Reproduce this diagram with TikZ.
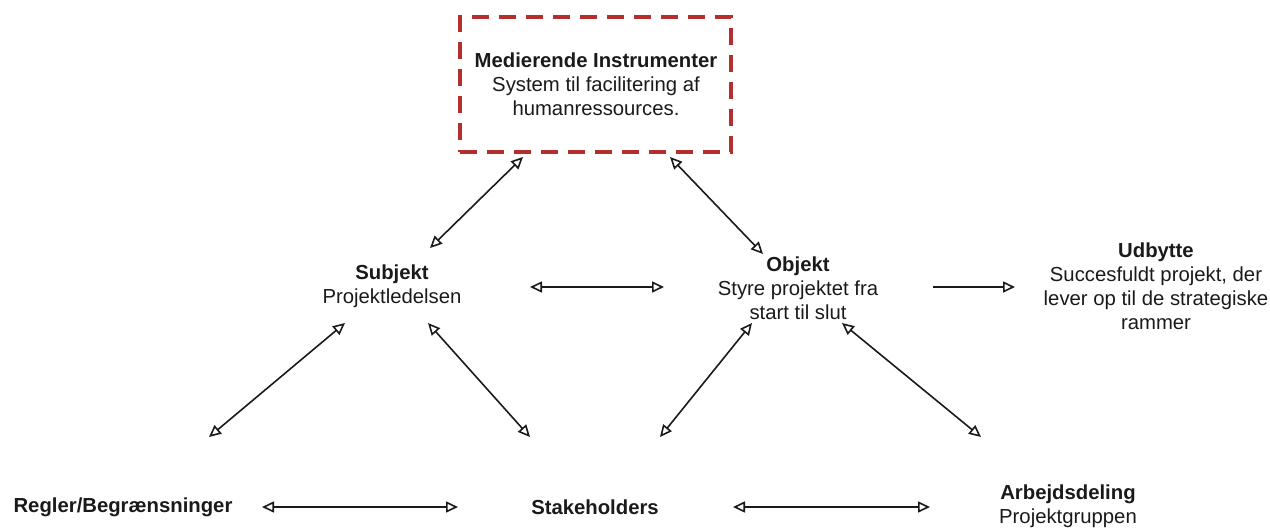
\documentclass[tikz,border=0pt]{standalone}
\usepackage{fontspec}
\setmainfont{Liberation Sans}
\usetikzlibrary{arrows.meta}
\definecolor{boxred}{RGB}{180,46,46}
\definecolor{ink}{RGB}{26,26,26}
\tikzset{
  lbl/.style={text=ink, align=center, inner sep=0pt, font=\fontsize{20.3}{24}\selectfont},
  tip/.style={Triangle[open,length=12pt,width=11pt]},
  both/.style={draw=ink, line width=1.6pt, {Triangle[open,length=12pt,width=11pt]}-{Triangle[open,length=12pt,width=11pt]}},
  tohead/.style={draw=ink, line width=1.6pt, -{Triangle[open,length=12pt,width=11pt]}},
  medbox/.style={draw=boxred, line width=3.2pt, dash pattern=on 17pt off 10pt,
    minimum width=271pt, minimum height=135pt, inner sep=0pt}
}
\begin{document}
\begin{tikzpicture}[x=1pt,y=-1pt]
\useasboundingbox (0,0) rectangle (1270,528);

% mediating instruments box
\node[medbox] (box) at (595.5,84.5) {};
\node[lbl] (boxtxt) at (596,84) {\textbf{Medierende Instrumenter}\\System til facilitering af\\humanressources.};

% nodes of the activity system
\node[lbl] (subj) at (392,286) {\textbf{Subjekt}\\Projektledelsen};
\node[lbl] (obj) at (798,288) {\textbf{Objekt}\\Styre projektet fra\\start til slut};
\node[lbl] (udb) at (1156,286) {\textbf{Udbytte}\\Succesfuldt projekt, der\\lever op til de strategiske\\rammer};
\node[lbl] (regl) at (123,507) {\textbf{Regler/Begrænsninger}};
\node[lbl] (stak) at (595,507) {\textbf{Stakeholders}};
\node[lbl] (arb) at (1068,506.5) {\textbf{Arbejdsdeling}\\Projektgruppen};

% connector end points
\coordinate (box-l) at (523,157);
\coordinate (box-r) at (670,157);
\coordinate (subj-t) at (430,248);
\coordinate (obj-t) at (763,254);
\coordinate (subj-r) at (530,287);
\coordinate (obj-l) at (664,287);
\coordinate (obj-r) at (933,287);
\coordinate (udb-l) at (1015,287);
\coordinate (subj-bl) at (345,323);
\coordinate (subj-br) at (428,323);
\coordinate (regl-t) at (209,437);
\coordinate (stak-tl) at (530,437);
\coordinate (obj-bl) at (752,323);
\coordinate (obj-br) at (842,323);
\coordinate (stak-tr) at (660,437);
\coordinate (arb-t) at (981,437);
\coordinate (regl-r) at (262,507);
\coordinate (stak-l) at (458,507);
\coordinate (stak-r) at (733,507);
\coordinate (arb-l) at (930,507);

% connectors
\draw[both] (box-l) -- (subj-t);
\draw[both] (box-r) -- (obj-t);
\draw[both] (subj-r) -- (obj-l);
\draw[tohead] (obj-r) -- (udb-l);
\draw[both] (subj-bl) -- (regl-t);
\draw[both] (subj-br) -- (stak-tl);
\draw[both] (obj-bl) -- (stak-tr);
\draw[both] (obj-br) -- (arb-t);
\draw[both] (regl-r) -- (stak-l);
\draw[both] (stak-r) -- (arb-l);
\end{tikzpicture}
\end{document}
